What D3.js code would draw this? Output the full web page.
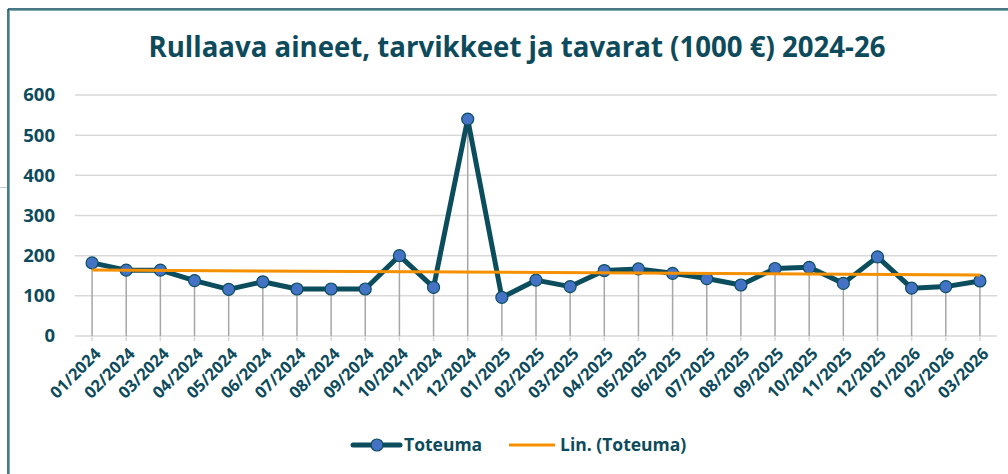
<!DOCTYPE html>
<html>
<head>
<meta charset="utf-8">
<script src="https://cdn.jsdelivr.net/npm/d3@7"></script>
<style>
    body { margin: 0; background: #fff; }
    text { font-family: "Open Sans", "Noto Sans", sans-serif; }
</style>
</head>
<body>
<div id="chart"></div>
<script>
// data
var months = ["01/2024", "02/2024", "03/2024", "04/2024", "05/2024", "06/2024", "07/2024", "08/2024", "09/2024",
    "10/2024", "11/2024", "12/2024", "01/2025", "02/2025", "03/2025", "04/2025", "05/2025", "06/2025",
    "07/2025", "08/2025", "09/2025", "10/2025", "11/2025", "12/2025", "01/2026", "02/2026", "03/2026"];
var toteuma = [182, 164, 164, 138, 116, 135, 117, 117, 117, 200, 121, 540, 96, 139, 123, 163, 167, 156,
    143, 127, 168, 171, 131, 197, 119, 123, 137];
var yTicks = [0, 100, 200, 300, 400, 500, 600];

var textColor = "#0d4b5c";
var lineColor = "#0b4d5d";
var markerFill = "#4472c4";
var trendColor = "#f59100";

var W = 1008, H = 474;
var margin = { top: 95, right: 11, bottom: 138, left: 75 },
    width = W - margin.left - margin.right,
    height = H - margin.top - margin.bottom;

var svg = d3.select("#chart")
    .append("svg")
    .attr("width", W)
    .attr("height", H);

// chart frame (only top and left edges visible)
svg.append("line").attr("x1", 8).attr("x2", W).attr("y1", 9).attr("y2", 9)
    .attr("stroke", "#0d4b5c").attr("stroke-width", 1.5);
svg.append("line").attr("x1", 8).attr("x2", W).attr("y1", 10.5).attr("y2", 10.5)
    .attr("stroke", "#7fa9b5").attr("stroke-width", 1);
svg.append("line").attr("x1", 8).attr("x2", 8).attr("y1", 9).attr("y2", H)
    .attr("stroke", "#0d4b5c").attr("stroke-width", 1.5);
svg.append("line").attr("x1", 9.5).attr("x2", 9.5).attr("y1", 10).attr("y2", H)
    .attr("stroke", "#7fa9b5").attr("stroke-width", 1);
svg.append("line").attr("x1", 0).attr("x2", 7).attr("y1", 187.5).attr("y2", 187.5)
    .attr("stroke", "#b9cfd6").attr("stroke-width", 1);

svg.append("text")
    .attr("x", 517)
    .attr("y", 57)
    .attr("text-anchor", "middle")
    .attr("textLength", 737)
    .attr("lengthAdjust", "spacingAndGlyphs")
    .style("font-size", "28px")
    .style("font-weight", "bold")
    .style("fill", textColor)
    .text("Rullaava aineet, tarvikkeet ja tavarat (1000 €) 2024-26");

var g = svg.append("g")
    .attr("transform", "translate(" + margin.left + "," + margin.top + ")");

var x = d3.scaleBand()
    .domain(months)
    .range([0, width]);

var y = d3.scaleLinear()
    .domain([0, 600])
    .range([height, 0]);

// gridlines
g.selectAll(".grid")
    .data(yTicks)
    .enter()
    .append("line")
    .attr("x1", 0)
    .attr("x2", width)
    .attr("y1", function (d) { return y(d); })
    .attr("y2", function (d) { return y(d); })
    .attr("stroke", "#d9d9d9")
    .attr("stroke-width", 1.5);

// y axis labels
g.selectAll(".ylab")
    .data(yTicks)
    .enter()
    .append("text")
    .attr("x", -20)
    .attr("y", function (d) { return y(d); })
    .attr("dy", "0.35em")
    .attr("text-anchor", "end")
    .style("font-size", "18.5px")
    .style("font-weight", "bold")
    .style("fill", textColor)
    .text(function (d) { return d; });

// x tick marks
g.selectAll(".xtick")
    .data(months)
    .enter()
    .append("line")
    .attr("x1", function (d) { return x(d) + x.bandwidth() / 2; })
    .attr("x2", function (d) { return x(d) + x.bandwidth() / 2; })
    .attr("y1", height)
    .attr("y2", height + 5)
    .attr("stroke", "#d9d9d9")
    .attr("stroke-width", 1.5);

// x labels rotated
g.selectAll(".xlab")
    .data(months)
    .enter()
    .append("text")
    .attr("transform", function (d) {
        return "translate(" + (x(d) + x.bandwidth() / 2 + 1) + "," + (height + 10) + ") rotate(-45)";
    })
    .attr("text-anchor", "end")
    .attr("dy", "0.75em")
    .style("font-size", "16.5px")
    .style("font-weight", "bold")
    .style("fill", textColor)
    .text(function (d) { return d; });

// drop lines
g.selectAll(".drop")
    .data(months)
    .enter()
    .append("line")
    .attr("x1", function (d) { return x(d) + x.bandwidth() / 2; })
    .attr("x2", function (d) { return x(d) + x.bandwidth() / 2; })
    .attr("y1", function (d, i) { return y(toteuma[i]); })
    .attr("y2", height)
    .attr("stroke", "#a6a6a6")
    .attr("stroke-width", 1.5);

// linear trend (least squares on the series)
var n = toteuma.length;
var mx = d3.mean(toteuma, function (d, i) { return i; });
var my = d3.mean(toteuma);
var sxy = d3.sum(toteuma, function (d, i) { return (i - mx) * (d - my); });
var sxx = d3.sum(toteuma, function (d, i) { return (i - mx) * (i - mx); });
var slope = sxy / sxx;
var intercept = my - slope * mx;

var line = d3.line()
    .x(function (d, i) { return x(months[i]) + x.bandwidth() / 2; })
    .y(function (d) { return y(d); });

g.append("path")
    .datum(toteuma)
    .attr("fill", "none")
    .attr("stroke", lineColor)
    .attr("stroke-width", 5)
    .attr("stroke-linejoin", "round")
    .attr("d", line);

g.selectAll(".dot")
    .data(toteuma)
    .enter()
    .append("circle")
    .attr("cx", function (d, i) { return x(months[i]) + x.bandwidth() / 2; })
    .attr("cy", function (d) { return y(d); })
    .attr("r", 6)
    .attr("fill", markerFill)
    .attr("stroke", lineColor)
    .attr("stroke-width", 1.2);

g.append("line")
    .attr("x1", x(months[0]) + x.bandwidth() / 2)
    .attr("x2", x(months[n - 1]) + x.bandwidth() / 2)
    .attr("y1", y(intercept))
    .attr("y2", y(intercept + slope * (n - 1)))
    .attr("stroke", trendColor)
    .attr("stroke-width", 3);

// legend
var leg = svg.append("g").attr("transform", "translate(0,445)");
leg.append("line").attr("x1", 353).attr("x2", 400).attr("y1", 0).attr("y2", 0)
    .attr("stroke", lineColor).attr("stroke-width", 5).attr("stroke-linecap", "round");
leg.append("circle").attr("cx", 377).attr("cy", 0).attr("r", 6)
    .attr("fill", markerFill).attr("stroke", lineColor).attr("stroke-width", 1.2);
leg.append("text").attr("x", 404).attr("y", 0).attr("dy", "0.35em")
    .style("font-size", "17.5px").style("font-weight", "bold").style("fill", textColor)
    .text("Toteuma");
leg.append("line").attr("x1", 509).attr("x2", 555).attr("y1", 0).attr("y2", 0)
    .attr("stroke", trendColor).attr("stroke-width", 3);
leg.append("text").attr("x", 560).attr("y", 0).attr("dy", "0.35em")
    .style("font-size", "17.5px").style("font-weight", "bold").style("fill", textColor)
    .text("Lin. (Toteuma)");
</script>
</body>
</html>
